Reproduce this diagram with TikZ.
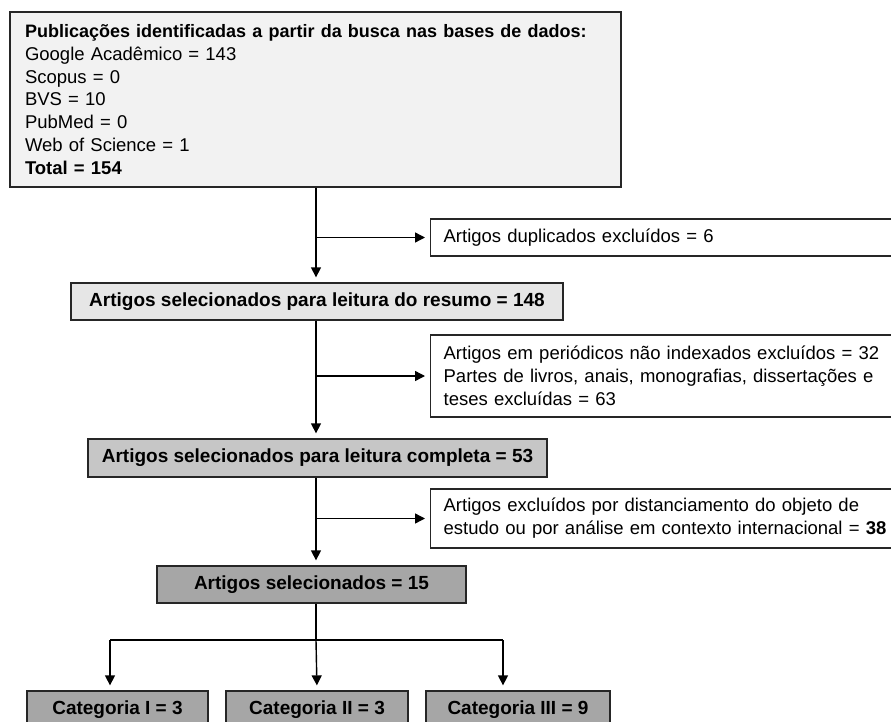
\documentclass[tikz,border=0pt]{standalone}
\usepackage{fontspec}
\setmainfont{Liberation Sans}
\usetikzlibrary{arrows.meta}
\definecolor{fillA}{HTML}{F2F2F2}
\definecolor{fillB}{HTML}{E6E6E6}
\definecolor{fillC}{HTML}{C6C6C6}
\definecolor{fillD}{HTML}{A6A6A6}
\definecolor{edge}{HTML}{262626}
\tikzset{
  box/.style={draw=edge, line width=1.3pt, rectangle, inner sep=0pt, anchor=center},
  graybox/.style={box, font=\bfseries\fontsize{19}{22}\selectfont, align=center},
  exbox/.style={box, anchor=west, fill=white, align=left, inner xsep=13pt,
                text width=470pt, font=\fontsize{18.5}{23}\selectfont},
  arr/.style={draw=black, line width=1.4pt, -{Triangle[length=10pt,width=10pt]}, shorten >=5pt},
  ln/.style={draw=black, line width=1.4pt}
}
\begin{document}
\begin{tikzpicture}[x=1pt,y=-1pt]
\useasboundingbox[fill=white] (0,0) rectangle (891,722);
% top box
\node[box, fill=fillA, minimum width=611pt, minimum height=175pt, text width=581pt, align=left,
      font=\fontsize{18.5}{22.7}\selectfont] (b1) at (315.5,99.5)
 {{\bfseries\fontsize{18}{22.7}\selectfont Publicações identificadas a partir da busca nas bases de dados:}\\
  Google Acadêmico = 143\\
  Scopus = 0\\
  BVS = 10\\
  PubMed = 0\\
  Web of Science = 1\\
  {\bfseries Total = 154}};
% exclusion boxes (their right side runs off the picture)
\node[exbox, minimum height=37pt] (dup) at (430,237.5)
 {Artigos duplicados excluídos = 6};
\node[exbox, minimum height=82pt] (per) at (430,376)
 {Artigos em periódicos não indexados excluídos = 32\\
  Partes de livros, anais, monografias, dissertações e\\
  teses excluídas = 63};
\node[exbox, minimum height=59pt] (dist) at (430,518.5)
 {Artigos excluídos por distanciamento do objeto de\\
  estudo ou por análise em contexto internacional = \textbf{38}};
% gray boxes
\node[graybox, fill=fillB, minimum width=492pt, minimum height=37pt] (b2) at (317,301.5)
 {Artigos selecionados para leitura do resumo = 148};
\node[graybox, fill=fillC, minimum width=459pt, minimum height=38pt] (b3) at (317.5,458)
 {Artigos selecionados para leitura completa = 53};
\node[graybox, fill=fillD, minimum width=309pt, minimum height=37pt] (b4) at (311.5,584.5)
 {Artigos selecionados = 15};
\node[graybox, fill=fillD, minimum width=181pt, minimum height=37pt] (c1) at (117.5,709.5)
 {Categoria I = 3};
\node[graybox, fill=fillD, minimum width=182pt, minimum height=37pt] (c2) at (317,709.5)
 {Categoria II = 3};
\node[graybox, fill=fillD, minimum width=184pt, minimum height=37pt] (c3) at (518,709.5)
 {Categoria III = 9};
% spine coordinates
\coordinate (sp) at (316,0);
\coordinate (ca) at (110,0);
\coordinate (cb) at (317,0);
\coordinate (cc) at (503,0);
\coordinate (split) at (316,640);
% connectors
\draw[arr] (b1.south -| sp) -- (b2.north -| sp);
\draw[arr] (sp |- dup.west) -- (dup.west);
\draw[arr] (b2.south -| sp) -- (b3.north -| sp);
\draw[arr] (sp |- per.west) -- (per.west);
\draw[arr] (b3.south -| sp) -- (b4.north -| sp);
\draw[arr] (sp |- dist.west) -- (dist.west);
\draw[ln] (b4.south -| sp) -- (split);
\draw[ln] (ca |- split) -- (cc |- split);
\draw[arr] (ca |- split) -- (ca |- c1.north);
\draw[arr] (split) -- (cb |- c2.north);
\draw[arr] (cc |- split) -- (cc |- c3.north);
\end{tikzpicture}
\end{document}
